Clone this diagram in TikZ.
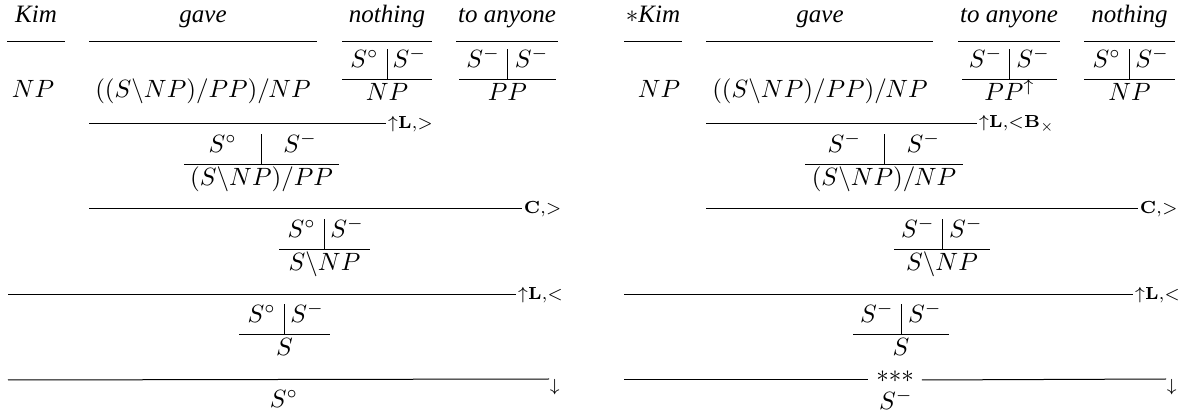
\documentclass[tikz,border=0pt]{standalone}
\usepackage{amsmath,amssymb}
\usepackage[no-math]{fontspec}
\setmainfont{Liberation Serif}
\tikzset{
	catA/.style={
		inner sep=0pt, anchor=base,
		font={\normalsize}
	},
	ruleA/.style={inner sep=0.5pt, anchor=west, font={\scriptsize}},
	splitA/.style={line width=0.4pt},
}
% #1 name, #2 centre x, #3 line y, #4 half width, #5 #6 top, #7 bottom
\newcommand{\splitcat}[7]{%
	\node[catA] (#1-l) at (#2-#4/2,#3-12) {$#5$};
	\node[catA] (#1-r) at (#2+#4/2,#3-12) {$#6$};
	\node[catA] (#1-b) at (#2,#3+21) {$#7$};
	\draw[splitA] (#2-#4,#3) -- (#2+#4,#3);
	\draw[splitA] (#2,#3) -- (#2,#3-31);
}

\begin{document}
\begin{tikzpicture}[x=0.4pt, y=-0.4pt, every node/.style={catA}]
\useasboundingbox (0,0) rectangle (1183,417);
% left derivation
\node (wKimA) at (36,23) {\textit{Kim}};
\node (wGaveA) at (203,23) {\textit{gave}};
\node (wNothA) at (387,23) {\textit{nothing}};
\node (wAnyA) at (507,23) {\textit{to anyone}};
\draw (7,42) -- (65,42); \draw (89,42) -- (317,42);
\draw (342,42) -- (432,42); \draw (456,42) -- (558,42);
\node (npA) at (33,98) {$NP$};
\node (verbA) at (203,98) {$((S\backslash NP)/PP)/NP$};
\splitcat{cNothA}{387}{80}{45}{S^\circ}{S^-}{NP}
\splitcat{cAnyA}{507.5}{80}{48.5}{S^-}{S^-}{PP}
\coordinate (r1A) at (89,124);
\node[ruleA] (l1A) at (386,124) {${\uparrow}\mathbf{L}{,}{>}$};
\draw (r1A) -- (l1A.west);
\splitcat{cTwoA}{261.5}{165}{77.5}{S^\circ}{S^-}{(S\backslash NP)/PP}
\coordinate (r2A) at (89,209);
\node[ruleA] (l2A) at (522,209) {$\mathbf{C}{,}{>}$};
\draw (r2A) -- (l2A.west);
\splitcat{cThreeA}{324.5}{250}{45.5}{S^\circ}{S^-}{S\backslash NP}
\coordinate (r3A) at (8,295);
\node[ruleA] (l3A) at (516,295) {${\uparrow}\mathbf{L}{,}{<}$};
\draw (r3A) -- (l3A.west);
\splitcat{cFourA}{284.5}{335}{45.5}{S^\circ}{S^-}{S}
\coordinate (r4A) at (8,380);
\node[ruleA, anchor=north west, inner sep=0pt] (l4A) at (549,379) {$\downarrow$};
\draw (r4A) -- (l4A.north west);
\node (resA) at (284,408) {$S^\circ$};
% right derivation
\node (wKimB) at (653,23) {$\ast$\textit{Kim}};
\node (wGaveB) at (820,23) {\textit{gave}};
\node (wAnyB) at (1009,23) {\textit{to anyone}};
\node (wNothB) at (1129.5,23) {\textit{nothing}};
\draw (624,42) -- (682,42); \draw (706,42) -- (933,42);
\draw (958,42) -- (1060,42); \draw (1084,42) -- (1175,42);
\node (npB) at (659,98) {$NP$};
\node (verbB) at (820,98) {$((S\backslash NP)/PP)/NP$};
\splitcat{cAnyB}{1009.5}{80}{47.5}{S^-}{S^-}{PP^\uparrow}
\splitcat{cNothB}{1129.5}{80}{45.5}{S^\circ}{S^-}{NP}
\coordinate (r1B) at (706,124);
\node[ruleA] (l1B) at (977,124) {${\uparrow}\mathbf{L}{,}{<}\mathbf{B}_\times$};
\draw (r1B) -- (l1B.west);
\splitcat{cTwoB}{884}{165}{79}{S^-}{S^-}{(S\backslash NP)/NP}
\coordinate (r2B) at (706,209);
\node[ruleA] (l2B) at (1138,209) {$\mathbf{C}{,}{>}$};
\draw (r2B) -- (l2B.west);
\splitcat{cThreeB}{942}{250}{48}{S^-}{S^-}{S\backslash NP}
\coordinate (r3B) at (624,295);
\node[ruleA] (l3B) at (1133,295) {${\uparrow}\mathbf{L}{,}{<}$};
\draw (r3B) -- (l3B.west);
\splitcat{cFourB}{901}{335}{48}{S^-}{S^-}{S}
\coordinate (r4B) at (624,380);
\node[anchor=center, inner xsep=3pt] (starB) at (895,377) {${*}{*}{*}$};
\node[ruleA, anchor=north west, inner sep=0pt] (l4B) at (1166,379) {$\downarrow$};
\draw (r4B) -- (starB.west |- r4B);
\draw (starB.east |- r4B) -- (l4B.north west);
\node (resB) at (896,410) {$S^-$};
\end{tikzpicture}
\end{document}
